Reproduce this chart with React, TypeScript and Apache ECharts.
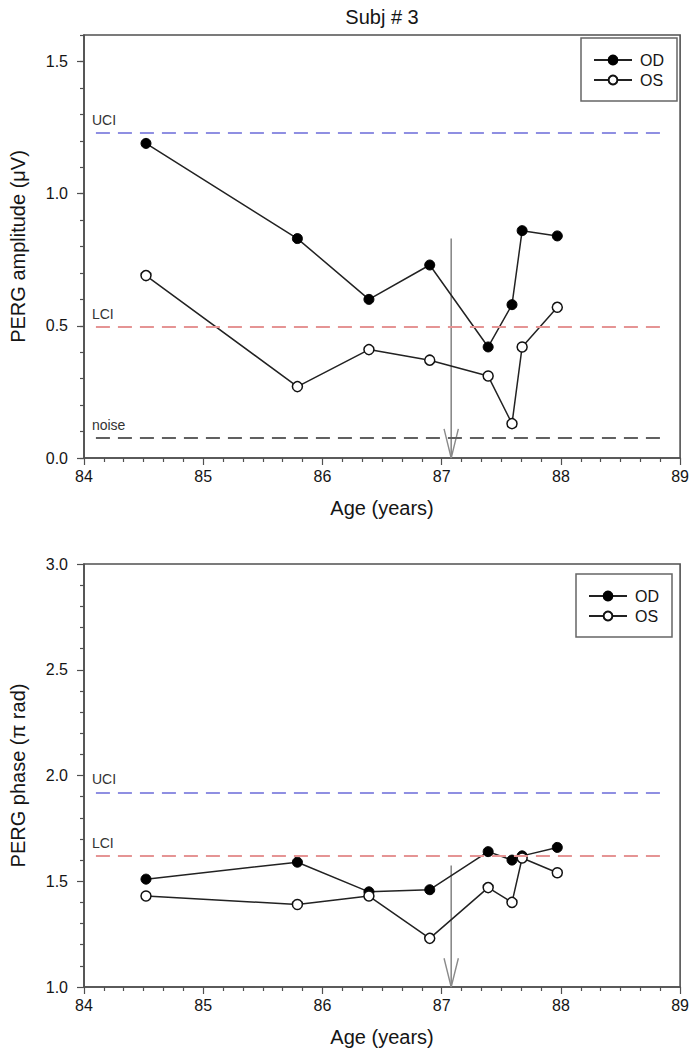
import React, { useEffect, useRef } from "react";
import * as echarts from "echarts";

// ---- data ----
const ages = [84.52, 85.79, 86.39, 86.9, 87.39, 87.59, 87.675, 87.97];
const ampOD = [1.19, 0.83, 0.6, 0.73, 0.42, 0.58, 0.86, 0.84];
const ampOS = [0.69, 0.27, 0.41, 0.37, 0.31, 0.13, 0.42, 0.57];
const phaseOD = [1.51, 1.59, 1.45, 1.46, 1.64, 1.6, 1.62, 1.66];
const phaseOS = [1.43, 1.39, 1.43, 1.23, 1.47, 1.4, 1.61, 1.54];

const ampRefLabels = ["UCI", "LCI", "noise"];
const ampRefValues = [1.23, 0.495, 0.077];
const phaseRefLabels = ["UCI", "LCI"];
const phaseRefValues = [1.92, 1.62];
const refRange = [84.1, 88.88];

const arrowAge = 87.08;
const arrowTopAmp = 0.83;
const arrowTopPhase = 1.575;

const xTicks = [84, 85, 86, 87, 88, 89];
const ampTicks = [0, 0.5, 1.0, 1.5];
const phaseTicks = [1.0, 1.5, 2.0, 2.5, 3.0];

const titleText = "Subj # 3";
const legendNames = ["OD", "OS"];

const FONT = "'Liberation Sans', Arial, sans-serif";
const AXIS_COLOR = "#505050";
const TEXT_COLOR = "#151515";

const refColor: Record<string, string> = {
  UCI: "#8f8fe2",
  LCI: "#e59494",
  noise: "#606060",
};

function refMarkLine(labels: string[], values: number[]) {
  return {
    silent: true,
    symbol: ["none", "none"],
    animation: false,
    data: values.map((v, i) => [
      {
        coord: [refRange[0], v],
        lineStyle: { color: refColor[labels[i]], type: [14, 8], width: 2.2 },
        label: {
          show: true,
          position: "insideStartTop",
          formatter: labels[i],
          color: "#333",
          fontSize: 14,
          fontFamily: FONT,
          distance: [-4, 6],
        },
      },
      { coord: [refRange[1], v] },
    ]),
  };
}

function xAxisCfg(gridIndex: number) {
  return {
    type: "value",
    gridIndex,
    min: xTicks[0],
    max: xTicks[xTicks.length - 1],
    interval: 1,
    name: "Age (years)",
    nameLocation: "middle",
    nameGap: 40,
    nameTextStyle: { fontSize: 20, color: TEXT_COLOR, fontFamily: FONT },
    axisLine: { show: true, lineStyle: { color: AXIS_COLOR, width: 1.6 } },
    axisTick: { show: true, inside: false, length: 7, lineStyle: { color: AXIS_COLOR, width: 1.2 } },
    minorTick: { show: true, splitNumber: 6, length: 4, lineStyle: { color: AXIS_COLOR, width: 1.2 } },
    axisLabel: { fontSize: 16, color: TEXT_COLOR, fontFamily: FONT, margin: 10 },
    splitLine: { show: false },
  };
}

function arrowSeries(xi: number, yi: number, top: number, bottom: number, headH: number) {
  const dx = 0.06;
  return [
    {
      type: "line",
      xAxisIndex: xi,
      yAxisIndex: yi,
      data: [
        [arrowAge, top],
        [arrowAge, bottom],
      ],
      symbol: "none",
      silent: true,
      lineStyle: { color: "#8a8a8a", width: 1.6 },
      z: 1,
    },
    {
      type: "line",
      xAxisIndex: xi,
      yAxisIndex: yi,
      data: [
        [arrowAge - dx, bottom + headH],
        [arrowAge, bottom],
        [arrowAge + dx, bottom + headH],
      ],
      symbol: "none",
      silent: true,
      lineStyle: { color: "#8a8a8a", width: 1.4 },
      z: 1,
    },
  ];
}

function dataSeries(name: string, xi: number, yi: number, vals: number[], filled: boolean, markLine?: any) {
  return {
    name,
    type: "line",
    xAxisIndex: xi,
    yAxisIndex: yi,
    data: ages.map((a, i) => [a, vals[i]]),
    symbol: "circle",
    symbolSize: 10,
    showAllSymbol: true,
    lineStyle: { color: "#222", width: 1.5 },
    itemStyle: filled
      ? { color: "#000", borderColor: "#000", borderWidth: 1 }
      : { color: "#fff", borderColor: "#111", borderWidth: 1.5 },
    z: 3,
    ...(markLine ? { markLine } : {}),
  };
}

function legendCfg(top: number, right: number) {
  return {
    data: legendNames,
    orient: "vertical",
    top,
    right,
    padding: [14, 13, 13, 12],
    itemGap: 4,
    itemWidth: 38,
    itemHeight: 11,
    borderColor: "#666",
    borderWidth: 1.5,
    textStyle: { fontSize: 16, color: TEXT_COLOR, fontFamily: FONT, padding: [0, 0, 0, 3] },
    selectedMode: false,
  };
}

function yAxisCommon(gridIndex: number, name: string) {
  return {
    type: "value",
    gridIndex,
    position: "left",
    name,
    nameLocation: "middle",
    nameGap: 56,
    nameTextStyle: { fontSize: 20, color: TEXT_COLOR, fontFamily: FONT },
    axisLine: { show: true, lineStyle: { color: AXIS_COLOR, width: 1.6 } },
    splitLine: { show: false },
  };
}

export default function App() {
  const ref = useRef<HTMLDivElement>(null);

  useEffect(() => {
    if (!ref.current) return;
    const chart = echarts.init(ref.current, null, { renderer: "svg" });
    const option: any = {
      animation: false,
      backgroundColor: "#fff",
      textStyle: { fontFamily: FONT },
      title: {
        text: titleText,
        left: 377,
        top: 2,
        textAlign: "center",
        textStyle: { fontSize: 20, fontWeight: "normal", color: TEXT_COLOR, fontFamily: FONT },
      },
      legend: [legendCfg(38, 15), legendCfg(574, 20)],
      grid: [
        { left: 78, top: 35, width: 604, height: 423, show: true, borderColor: AXIS_COLOR, borderWidth: 1.6, backgroundColor: "transparent" },
        { left: 78, top: 564, width: 604, height: 423, show: true, borderColor: AXIS_COLOR, borderWidth: 1.6, backgroundColor: "transparent" },
      ],
      xAxis: [xAxisCfg(0), xAxisCfg(1)],
      yAxis: [
        {
          ...yAxisCommon(0, "PERG amplitude (μV)"),
          min: 0,
          max: 1.6,
          interval: 0.5,
          axisTick: { show: true, inside: false, length: 7, customValues: ampTicks, lineStyle: { color: AXIS_COLOR, width: 1.2 } },
          axisLabel: {
            fontSize: 16,
            color: TEXT_COLOR,
            fontFamily: FONT,
            margin: 16,
            customValues: ampTicks,
            formatter: (v: number) => v.toFixed(1),
          },
        },
        {
          type: "value",
          gridIndex: 0,
          position: "left",
          min: 0,
          max: 1.6,
          interval: 0.1,
          axisLine: { show: false },
          axisTick: { show: true, inside: false, length: 4, lineStyle: { color: AXIS_COLOR, width: 1.2 } },
          axisLabel: { show: false },
          splitLine: { show: false },
        },
        {
          ...yAxisCommon(1, "PERG phase (π rad)"),
          min: phaseTicks[0],
          max: phaseTicks[phaseTicks.length - 1],
          interval: 0.5,
          axisTick: { show: true, inside: false, length: 7, lineStyle: { color: AXIS_COLOR, width: 1.2 } },
          minorTick: { show: true, splitNumber: 5, length: 4, lineStyle: { color: AXIS_COLOR, width: 1.2 } },
          axisLabel: {
            fontSize: 16,
            color: TEXT_COLOR,
            fontFamily: FONT,
            margin: 16,
            formatter: (v: number) => v.toFixed(1),
          },
        },
      ],
      series: [
        ...arrowSeries(0, 0, arrowTopAmp, ampTicks[0], 0.11),
        dataSeries("OD", 0, 0, ampOD, true, refMarkLine(ampRefLabels, ampRefValues)),
        dataSeries("OS", 0, 0, ampOS, false),
        ...arrowSeries(1, 2, arrowTopPhase, phaseTicks[0], 0.136),
        dataSeries("OD", 1, 2, phaseOD, true, refMarkLine(phaseRefLabels, phaseRefValues)),
        dataSeries("OS", 1, 2, phaseOS, false),
      ],
    };
    chart.setOption(option);
    return () => chart.dispose();
  }, []);

  return (
    <div
      ref={ref}
      style={{ position: "fixed", left: 0, top: 0, width: 692, height: 1050, background: "#fff" }}
    />
  );
}
